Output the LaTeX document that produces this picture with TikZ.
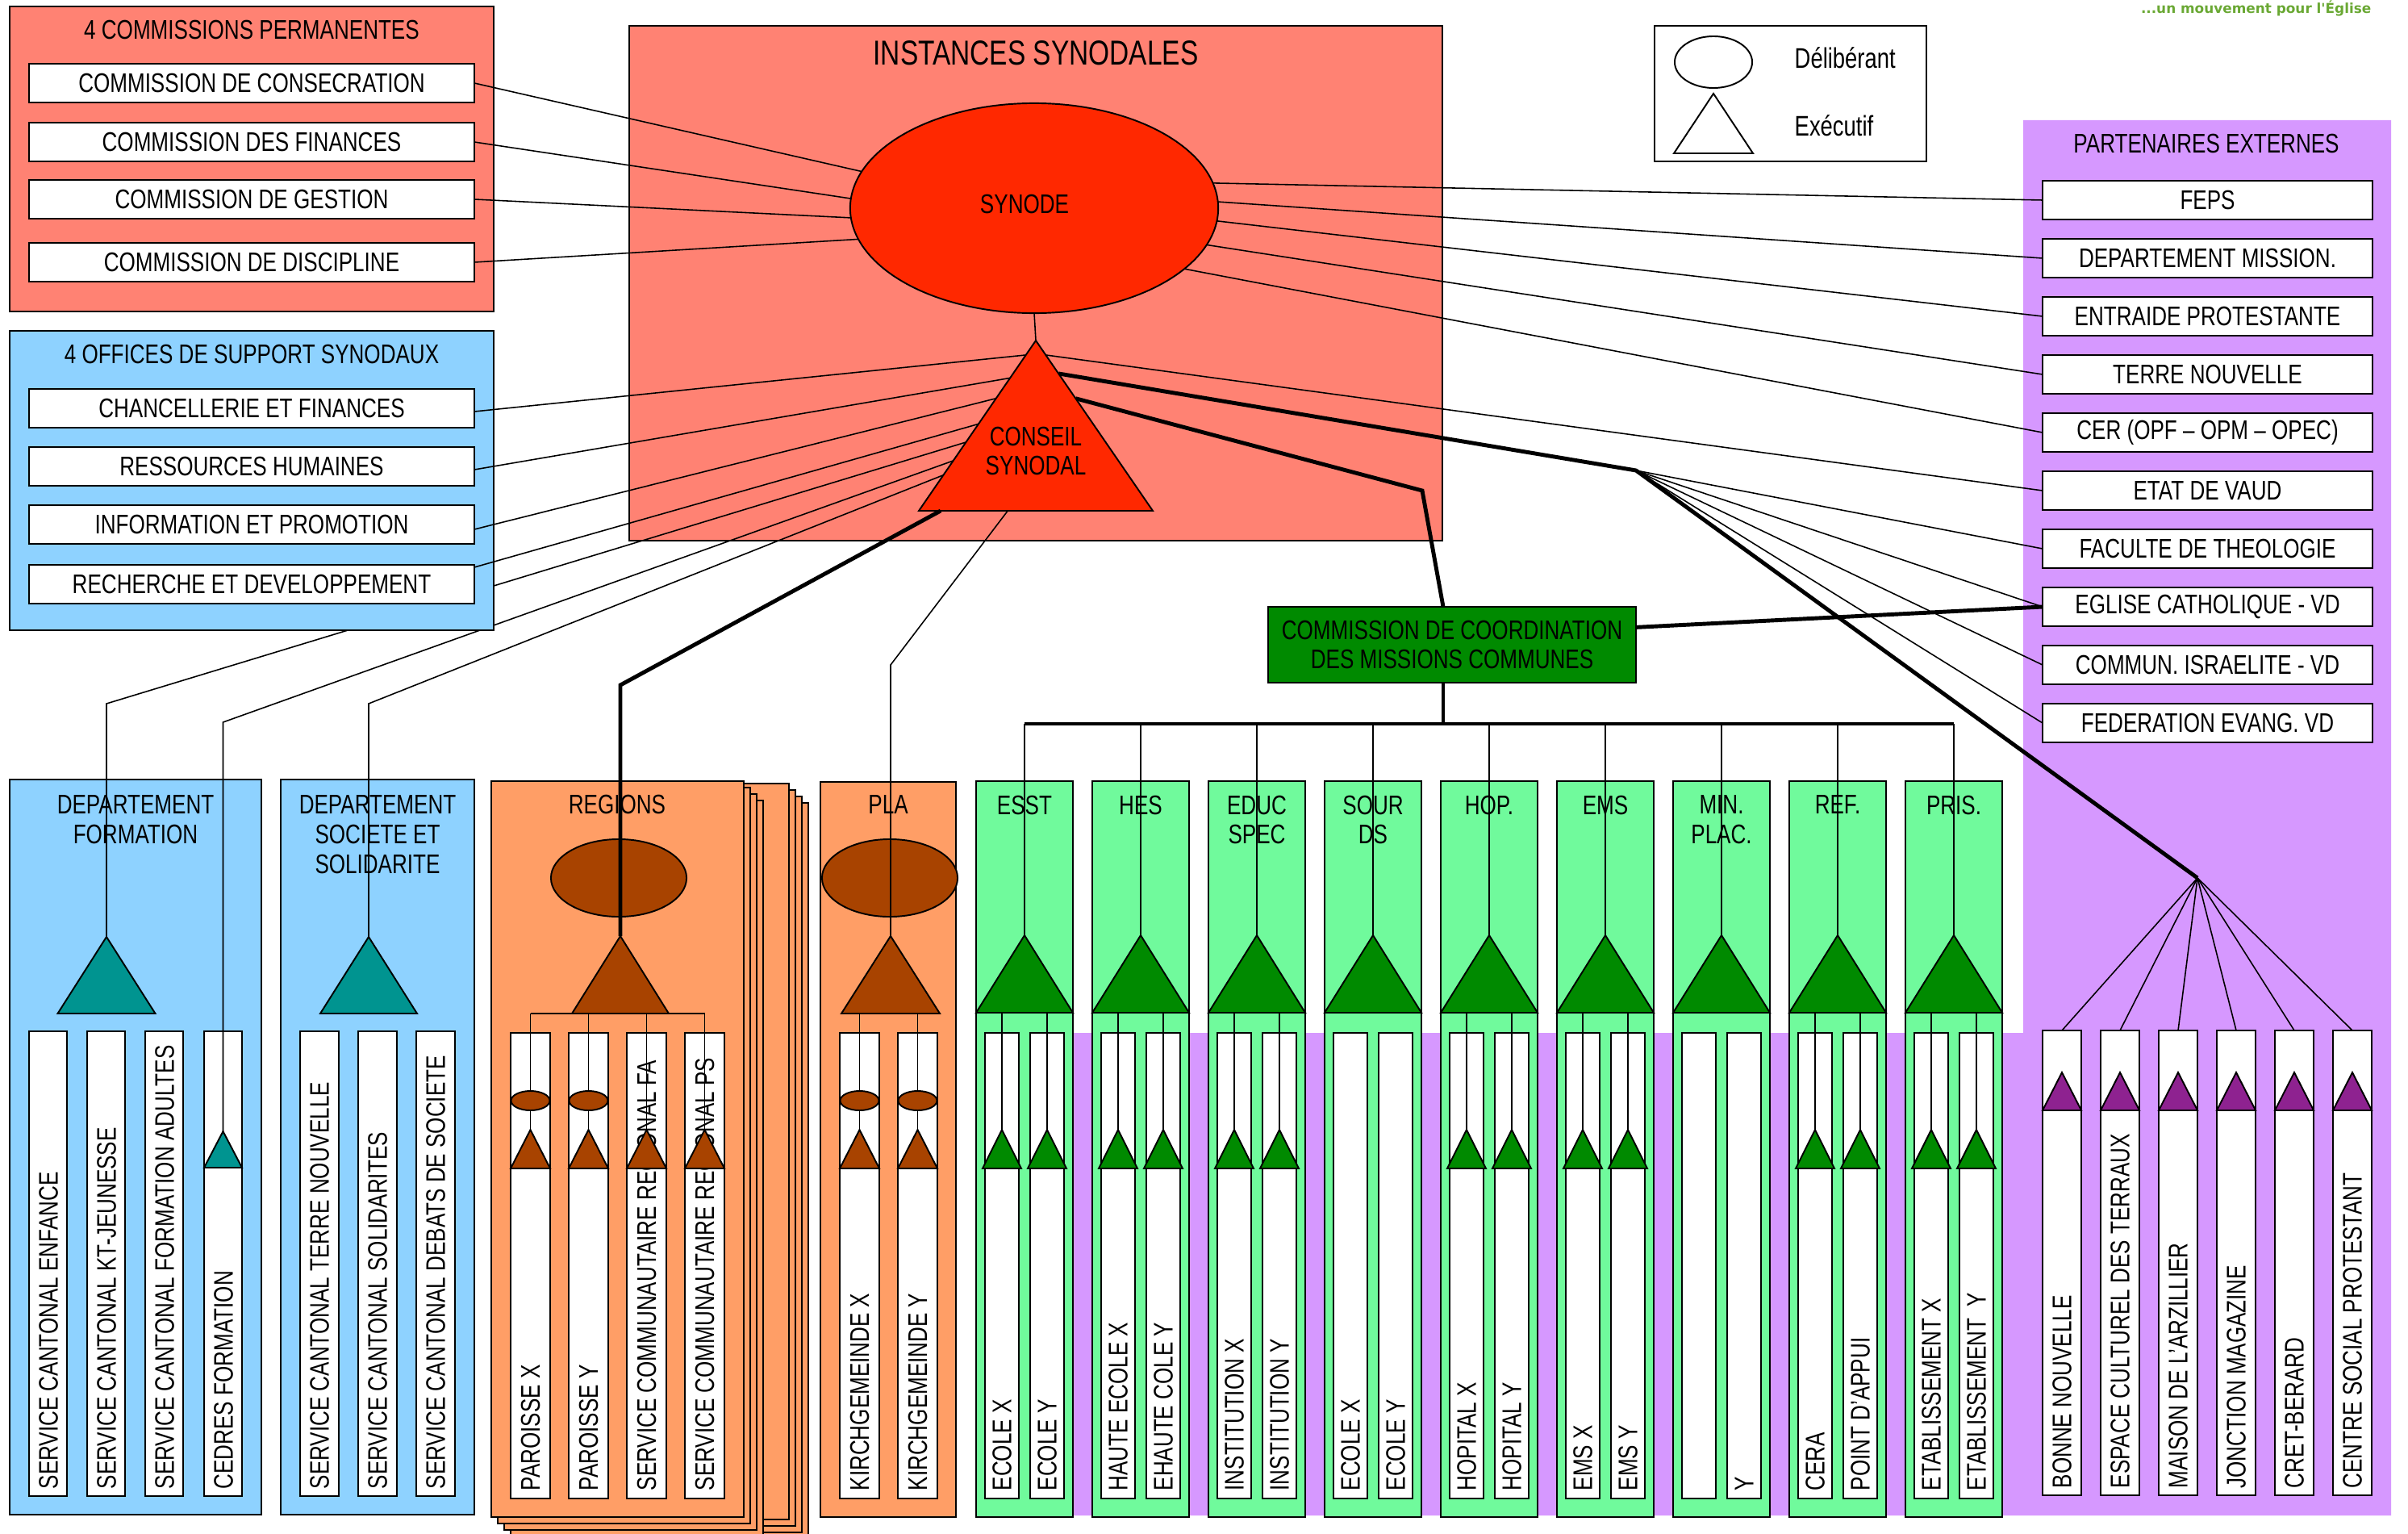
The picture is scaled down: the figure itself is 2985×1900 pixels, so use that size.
\documentclass[tikz,border=0pt]{standalone}
\usepackage{fontspec}
\setmainfont{Liberation Sans}[FakeStretch=0.78]
\newfontfamily\slogan{DejaVu Sans}
\usetikzlibrary{calc,fit,shapes.geometric}

\definecolor{saumon}{RGB}{255,130,115}
\definecolor{rougesyn}{RGB}{255,40,0}
\definecolor{bleuclair}{RGB}{142,210,255}
\definecolor{sarcelle}{RGB}{0,148,144}
\definecolor{orangereg}{RGB}{255,158,102}
\definecolor{brun}{RGB}{168,67,0}
\definecolor{vertclair}{RGB}{112,250,156}
\definecolor{vertfonce}{RGB}{0,138,0}
\definecolor{violetclair}{RGB}{214,152,255}
\definecolor{violetfonce}{RGB}{142,34,144}
\definecolor{vertslogan}{RGB}{106,168,52}

\pgfdeclarelayer{fond}
\pgfdeclarelayer{fils}
\pgfsetlayers{fond,fils,main}

\newcommand\taille{\fontsize{9.5}{10.5}\selectfont}
\newcommand\tria[6]{%
	\filldraw[fill=#6, line width=0.55pt] (#2,#3) coordinate (#1-a)
		-- ++(-#4,#5) coordinate (#1-l) -- ++(2*#4,0) coordinate (#1-r) -- cycle;}

\tikzset{
	boite/.style={draw, line width=0.55pt, inner sep=0pt, outer sep=0pt},
	item/.style={boite, fill=white},
	titre/.style={font=\taille, align=center, inner sep=0pt},
	vert/.style={font=\taille, rotate=90, anchor=west, inner sep=0pt},
	forme/.style={draw, line width=0.55pt, inner sep=0pt, outer sep=0pt},
	fil/.style={line width=0.45pt},
	gros/.style={line width=1.4pt},
}

\begin{document}
\begin{tikzpicture}[x = .01cm, y = -.01cm]
	\useasboundingbox (0,0) rectangle (2985,1900);

	\begin{pgfonlayer}{fond}
		\fill[violetclair] (1230,1280) -- (2508,1280) -- (2508,149) -- (2964,149) -- (2964,1878) -- (1230,1878) -- cycle;
		\node[titre] (partitre) at (2735,178) {PARTENAIRES EXTERNES};
		\node[boite, fill=saumon, fit={(780,32) (1788,670)}] (instances) {};
		\node[titre, font=\fontsize{12.2}{13}\selectfont] (institre) at (1284,66) {INSTANCES SYNODALES};

		\node[boite, fill=bleuclair, fit={(12,966) (324,1877)}] (formation) {};
		\node[titre, anchor=north] (formtitre) at (168,985) {DEPARTEMENT\\FORMATION};
		\foreach \x/\t [count=\i] in {36/SERVICE CANTONAL ENFANCE, 108/SERVICE CANTONAL KT-JEUNESSE, 180/SERVICE CANTONAL FORMATION ADULTES, 253/CEDRES FORMATION}{
			\node[item, fit={(\x,1278) (\x+47,1854)}] (sf\i) {};
			\node[vert] (sft\i) at (\x+24,1846) {\t};
		}

		\node[boite, fill=bleuclair, fit={(348,966) (588,1877)}] (societe) {};
		\node[titre, anchor=north] (soctitre) at (468,985) {DEPARTEMENT\\SOCIETE ET\\SOLIDARITE};
		\foreach \x/\t [count=\i] in {372/SERVICE CANTONAL TERRE NOUVELLE, 444/SERVICE CANTONAL SOLIDARITES, 516/SERVICE CANTONAL DEBATS DE SOCIETE}{
			\node[item, fit={(\x,1278) (\x+48,1854)}] (ss\i) {};
			\node[vert] (sst\i) at (\x+24,1846) {\t};
		}

		\foreach \k in {3,2,1,0}
			\draw[boite, fill=orangereg] (640+8*\k,971+8*\k) rectangle (978+8*\k,1883+8*\k);
		\foreach \k in {3,2,1}
			\draw[boite, fill=orangereg] (609+8*\k,968+8*\k) rectangle (922+8*\k,1880+8*\k);
		\node[boite, fill=orangereg, fit={(609,968) (922,1880)}] (regions) {};
		\node[titre] (regtitre) at (765,997) {REGIONS};
		\foreach \x/\t [count=\i] in {633/PAROISSE X, 705/PAROISSE Y, 777/SERVICE COMMUNAUTAIRE REGIONAL FA, 849/SERVICE COMMUNAUTAIRE REGIONAL PS}{
			\node[item, fit={(\x,1280) (\x+49,1857)}] (rg\i) {};
			\node[vert] (rgt\i) at (\x+24.5,1848) {\t};
		}

		\node[boite, fill=orangereg, fit={(1017,969) (1185,1880)}] (pla) {};
		\node[titre] (platitre) at (1101,997) {PLA};
		\foreach \x/\t [count=\i] in {1041/KIRCHGEMEINDE X, 1113/KIRCHGEMEINDE Y}{
			\node[item, fit={(\x,1280) (\x+49,1857)}] (pk\i) {};
			\node[vert] (pkt\i) at (\x+24.5,1848) {\t};
		}

		\foreach \x/\t [count=\i] in {2532/BONNE NOUVELLE, 2604/ESPACE CULTUREL DES TERRAUX, 2676/MAISON DE L’ARZILLIER, 2748/JONCTION MAGAZINE, 2820/CRET-BERARD, 2892/CENTRE SOCIAL PROTESTANT}{
			\node[item, fit={(\x,1277) (\x+48,1853)}] (pb\i) {};
			\node[vert] (pbt\i) at (\x+24,1845) {\t};
		}
	\end{pgfonlayer}

	\foreach \t/\g/\d/\s [count=\i from 0] in {ESST/ECOLE X/ECOLE Y/1, HES/HAUTE ECOLE X/EHAUTE COLE Y/1, EDUC\\SPEC/INSTITUTION X/INSTITUTION Y/1, SOUR\\DS/ECOLE X/ECOLE Y/0, HOP./HOPITAL X/HOPITAL Y/1, EMS/EMS X/EMS Y/1, MIN.\\PLAC./{}/Y/0, REF./CERA/POINT D’APPUI/1, PRIS./ETABLISSEMENT X/ETABLISSEMENT~ Y/1}{
		\pgfmathsetmacro\L{1210+144*\i}
		\begin{pgfonlayer}{fond}
			\node[boite, fill=vertclair, fit={(\L,968) (\L+120,1880)}] (col\i) {};
			\node[titre, anchor=north] (colt\i) at (\L+60,985) {\t};
			\node[item, fit={(\L+11,1280) (\L+53,1857)}] (cg\i) {};
			\node[item, fit={(\L+67,1280) (\L+109,1857)}] (cd\i) {};
			\node[vert] (cgt\i) at (\L+32,1848) {\g};
			\node[vert] (cdt\i) at (\L+88,1848) {\d};
		\end{pgfonlayer}
		\tria{g\i}{\L+60}{1159}{60}{96}{vertfonce}
		\coordinate (bus\i) at (\L+60,897);
		\begin{pgfonlayer}{fils}
			\draw[fil] (bus\i) -- (g\i-a);
		\end{pgfonlayer}
		\ifnum\s=1
			\tria{tg\i}{\L+32}{1400}{24}{48}{vertfonce}
			\tria{td\i}{\L+88}{1400}{24}{48}{vertfonce}
			\begin{pgfonlayer}{fils}
				\draw[fil] (tg\i-a |- g\i-l) -- (tg\i-a);
				\draw[fil] (td\i-a |- g\i-l) -- (td\i-a);
			\end{pgfonlayer}
		\fi
	}

	\node[forme, ellipse, fill=rougesyn, minimum width=4.56cm, minimum height=2.6cm] (synode) at (1282,258) {};
	\node[titre] (synodetexte) at (1270,253) {SYNODE};
	\tria{cs}{1284}{422}{145}{211}{rougesyn}
	\node[titre] (cstexte) at (1284,559) {CONSEIL\\SYNODAL};

	\tria{ftri}{132}{1161}{60.5}{95}{sarcelle}
	\tria{ctri}{276.5}{1402}{23.5}{45}{sarcelle}
	\tria{stri}{457}{1161}{60}{95}{sarcelle}

	\node[forme, ellipse, fill=brun, minimum width=1.68cm, minimum height=0.96cm] (regsyn) at (767,1088) {};
	\tria{rtri}{769}{1160}{60}{96}{brun}
	\foreach \x [count=\i] in {657.5,729.5,801.5,873.5}
		\tria{rt\i}{\x}{1400}{24.5}{48}{brun};
	\foreach \x [count=\i] in {657.5,729.5}
		\node[forme, ellipse, fill=brun, minimum width=0.48cm, minimum height=0.24cm] (re\i) at (\x,1364) {};

	\node[forme, ellipse, fill=brun, minimum width=1.68cm, minimum height=0.96cm] (plasyn) at (1103,1088) {};
	\tria{ptri}{1104}{1160}{61}{96}{brun}
	\foreach \x [count=\i] in {1065.5,1137.5}{
		\tria{pt\i}{\x}{1400}{24.5}{48}{brun}
		\node[forme, ellipse, fill=brun, minimum width=0.48cm, minimum height=0.24cm] (pe\i) at (\x,1364) {};
	}

	\draw[gros] ($(cs-l)!0.093!(cs-r)$) -- (769,849) -- (rtri-a);
	\draw[fil] ($(cs-l)!0.38!(cs-r)$) -- (1104,824) -- (ptri-a);

	\foreach \x [count=\i] in {2556,2628,2700,2772,2844,2916}
		\tria{vt\i}{\x}{1329}{24}{47}{violetfonce};

	\begin{pgfonlayer}{fond}
		\draw[fil] ($(cs-a)!0.597!(cs-l)$) -- (132,872) -- (ftri-a);
		\draw[fil] ($(cs-a)!0.706!(cs-l)$) -- (276.5,895) -- (ctri-a);
		\draw[fil] ($(cs-a)!0.79!(cs-l)$) -- (457,872) -- (stri-a);

		\node[boite, fill=saumon, fit={(12,8) (612,386)}] (permanentes) {};
		\node[titre] (permtitre) at (312,37) {4 COMMISSIONS PERMANENTES};
		\node[boite, fill=bleuclair, fit={(12,410) (612,781)}] (offices) {};
		\node[titre] (offtitre) at (312,439) {4 OFFICES DE SUPPORT SYNODAUX};
	\end{pgfonlayer}

	\foreach \y/\t [count=\i] in {79/COMMISSION DE CONSECRATION, 152/COMMISSION DES FINANCES, 223/COMMISSION DE GESTION, 301/COMMISSION DE DISCIPLINE}{
		\node[item, fit={(36,\y) (588,\y+48)}] (cp\i) {};
		\node[titre] (cpt\i) at (cp\i) {\t};
	}
	\foreach \y/\t [count=\i] in {482/CHANCELLERIE ET FINANCES, 554/RESSOURCES HUMAINES, 626/INFORMATION ET PROMOTION, 700/RECHERCHE ET DEVELOPPEMENT}{
		\node[item, fit={(36,\y) (588,\y+48)}] (of\i) {};
		\node[titre] (oft\i) at (of\i) {\t};
	}
	\foreach \y/\t [count=\i] in {224/FEPS, 296/DEPARTEMENT MISSION., 368/ENTRAIDE PROTESTANTE, 440/TERRE NOUVELLE, 512/{CER (OPF – OPM – OPEC)}, 584/ETAT DE VAUD, 656/FACULTE DE THEOLOGIE, 728/EGLISE CATHOLIQUE - VD, 800/COMMUN. ISRAELITE - VD, 872/FEDERATION EVANG. VD}{
		\node[item, fit={(2532,\y) (2941,\y+48)}] (px\i) {};
		\node[titre] (pxt\i) at (px\i) {\t};
	}

	\node[boite, fill=vertfonce, fit={(1572,752) (2028,846)}] (ccmc) {};
	\node[titre] (ccmctexte) at (ccmc) {COMMISSION DE COORDINATION\\DES MISSIONS COMMUNES};

	\node[boite, fill=white, fit={(2051,32) (2388,200)}] (legende) {};
	\node[forme, ellipse, fill=white, minimum width=0.96cm, minimum height=0.64cm] (legell) at (2124,77) {};
	\tria{legtri}{2124}{116}{49}{74}{white}
	\node[font=\fontsize{10}{12}\selectfont, anchor=west, inner sep=0pt] (legdel) at (2224,72) {Délibérant};
	\node[font=\fontsize{10}{12}\selectfont, anchor=west, inner sep=0pt] (legexe) at (2224,156) {Exécutif};

	\node[anchor=east, inner sep=0pt, text=vertslogan, font=\slogan\bfseries\fontsize{4.8}{5}\selectfont] (devise) at (2940,10) {...un mouvement pour l'Église};

	\coordinate (jct) at (2028,583);
	\coordinate (fan) at (2724,1088);
	\begin{pgfonlayer}{fils}
		\draw[fil] (synode.south) -- (cs-a);
		\foreach \i/\a in {1/168, 2/177, 3/183, 4/190}
			\draw[fil] (cp\i.east) -- (synode.\a);
		\draw[fil] ([yshift=-.04cm]of1.east) -- ($(cs-a)!0.085!(cs-l)$);
		\draw[fil] ([yshift=-.04cm]of2.east) -- ($(cs-a)!0.22!(cs-l)$);
		\draw[fil] ([yshift=-.06cm]of3.east) -- ($(cs-a)!0.34!(cs-l)$);
		\draw[fil] ([yshift=-.03cm]of4.north east) -- ($(cs-a)!0.49!(cs-l)$);
		\foreach \i/\a in {1/8, 2/2, 3/-4, 4/-12, 5/-22}
			\draw[fil] (synode.\a) -- (px\i.west);
		\draw[fil] ($(cs-a)!0.085!(cs-r)$) -- (px6.west);
		\draw[gros] ($(cs-a)!0.194!(cs-r)$) -- (jct) -- (fan);
		\foreach \i in {7,...,10}
			\draw[fil] (jct) -- (px\i.west);
		\draw[gros] ($(cs-a)!0.34!(cs-r)$) -- (1763,608) -- ([xshift=-.11cm]ccmc.north);
		\draw[gros] ($(ccmc.north east)!0.27!(ccmc.south east)$) -- (px8.west);
		\draw[gros] ([xshift=-.11cm]ccmc.south) -- ([xshift=-.11cm]ccmc.south |- bus0);
		\draw[gros] (bus0) -- (bus8);
		\foreach \i in {1,...,6}
			\draw[fil] (fan) -- (pb\i.north);

		\draw[fil] (rt1-a |- rtri-l) -- (rt4-a |- rtri-l);
		\foreach \i in {1,...,4}
			\draw[fil] (rt\i-a |- rtri-l) -- (rt\i-a);
		\foreach \i in {1,2}
			\draw[fil] (pt\i-a |- ptri-l) -- (pt\i-a);
	\end{pgfonlayer}
\end{tikzpicture}
\end{document}
